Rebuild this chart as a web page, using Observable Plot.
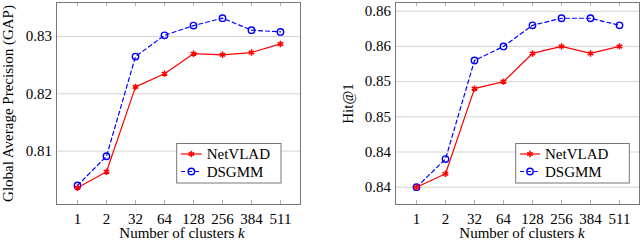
<!DOCTYPE html>
<html><head><meta charset="utf-8">
<script src="https://cdn.jsdelivr.net/npm/d3@7"></script>
<script src="https://cdn.jsdelivr.net/npm/@observablehq/plot@0.6"></script>
<style>
body{margin:0;background:#fff;}
#wrap{position:relative;width:640px;height:242px;overflow:hidden;}
#wrap svg{position:absolute;top:0;}
</style></head><body><div id="wrap"></div>
<script>
const clusters = ["1","2","32","64","128","256","384","511"];
const gapNetVLAD = [0.8036,0.8064,0.8212,0.8235,0.8270,0.8268,0.8272,0.8287];
const gapDSGMM   = [0.8040,0.8091,0.8265,0.8302,0.8319,0.8332,0.8311,0.8308];
const hitNetVLAD = [0.8400,0.8419,0.8540,0.8550,0.8590,0.8600,0.8590,0.8600];
const hitDSGMM   = [0.8400,0.8440,0.8580,0.8600,0.8630,0.8640,0.8640,0.8630];
const gapTicks = [0.81,0.82,0.83];
const gapTickLabels = ["0.81","0.82","0.83"];
const hitTicks = [0.84,0.845,0.85,0.855,0.86,0.865];
const hitTickLabels = ["0.84","0.84","0.85","0.85","0.86","0.86"];
const seriesNames = ["NetVLAD","DSGMM"];
const xTitle = "Number of clusters ";
const xTitleVar = "k";
const gapTitle = "Global Average Precision (GAP)";
const hitTitle = "Hit@1";

const FONT = "Liberation Serif, Times New Roman, serif";
const RED = "#ff0000", BLUE = "#0000ff";

function panel(o){
  const net = clusters.map((k,i)=>({k, v:o.net[i]}));
  const ds = clusters.map((k,i)=>({k, v:o.ds[i]}));
  const H = 242, mt = 2, mb = 38, plotH = H-mt-mb;
  const tickLen = (o.yDomain[1]-o.yDomain[0])*4/plotH;
  const svg = Plot.plot({
    width:320, height:H, marginLeft:o.ml, marginRight:o.mr, marginTop:mt, marginBottom:mb,
    style:{fontFamily:FONT, fontSize:"15px", color:"#000", background:"transparent", overflow:"visible"},
    x:{type:"point", domain:clusters, padding:0.686},
    y:{domain:o.yDomain},
    marks:[
      Plot.gridY(o.ticks,{stroke:"#d4d4d4", strokeOpacity:1}),
      Plot.ruleX(clusters,{x:d=>d, y1:o.yDomain[0], y2:o.yDomain[0]+tickLen, stroke:"#b0b0b0"}),
      Plot.ruleX(clusters,{x:d=>d, y1:o.yDomain[1], y2:o.yDomain[1]-tickLen, stroke:"#b0b0b0"}),
      Plot.frame({stroke:"#777"}),
      Plot.axisX({tickSize:0, tickPadding:8.5, fontSize:15, label:null}),
      Plot.axisY(o.ticks,{tickSize:0, tickPadding:4.5, fontSize:15, label:null,
        tickFormat:d=>o.labels[o.ticks.indexOf(d)]}),
      Plot.line(ds,{x:"k", y:"v", stroke:BLUE, strokeWidth:1.2, strokeDasharray:"4,3"}),
      Plot.dot(ds,{x:"k", y:"v", symbol:"circle", r:3.2, stroke:BLUE, strokeWidth:1.4, fill:"none"}),
      Plot.line(net,{x:"k", y:"v", stroke:RED, strokeWidth:1.2}),
      Plot.dot(net,{x:"k", y:"v", symbol:"asterisk", r:3, stroke:RED, strokeWidth:1.6}),
      Plot.text([o.title],{frameAnchor:"left", textAnchor:"middle", lineAnchor:"middle", dx:o.titleDx, rotate:-90, text:d=>d, fontSize:15})
    ]
  });
  const s = d3.select(svg);
  const t = s.append("text").attr("x", o.xTitleX).attr("y", 238)
    .attr("text-anchor","middle").attr("font-family",FONT).attr("font-size",15).attr("fill","#000");
  t.append("tspan").text(xTitle);
  t.append("tspan").attr("font-style","italic").text(xTitleVar);
  const L = o.legend;
  const g = s.append("g").attr("font-family",FONT).attr("font-size",15).attr("text-anchor","start");
  g.append("rect").attr("x",L.x0).attr("y",143.5).attr("width",L.x1-L.x0).attr("height",39.5)
    .attr("fill","#fff").attr("stroke","#777");
  const rowsY = [154,171.5];
  const styles = [{stroke:RED, dash:null, sym:d3.symbolAsterisk, fill:"none", sw:1.6, r:3},
                  {stroke:BLUE, dash:"4,3", sym:d3.symbolCircle, fill:"none", sw:1.4, r:3.2}];
  seriesNames.forEach((name,i)=>{
    const st = styles[i], y = rowsY[i];
    g.append("line").attr("x1",L.l0).attr("x2",L.l1).attr("y1",y).attr("y2",y)
      .attr("stroke",st.stroke).attr("stroke-width",1.2).attr("stroke-dasharray",st.dash);
    g.append("path").attr("d",d3.symbol(st.sym, Math.PI*st.r*st.r)()).attr("transform",`translate(${(L.l0+L.l1)/2},${y})`)
      .attr("fill",st.fill).attr("stroke",st.stroke).attr("stroke-width",st.sw);
    g.append("text").attr("x",L.tx).attr("y",y+5).text(name).attr("fill","#000");
  });
  return svg;
}

const left = panel({net:gapNetVLAD, ds:gapDSGMM, ticks:gapTicks, labels:gapTickLabels,
  yDomain:[0.80068,0.83593], ml:56, mr:20, title:gapTitle, titleDx:-48.5, xTitleX:182,
  legend:{x0:176.7, x1:281, l0:181, l1:201.7, tx:206.7}});
const right = panel({net:hitNetVLAD, ds:hitDSGMM, ticks:hitTicks, labels:hitTickLabels,
  yDomain:[0.83754,0.86624], ml:75, mr:1, title:hitTitle, titleDx:-47.5, xTitleX:202,
  legend:{x0:195.7, x1:309.3, l0:200, l1:220, tx:225}});
left.style.left = "0px";
right.style.left = "320px";
document.getElementById("wrap").append(left, right);
</script></body></html>
